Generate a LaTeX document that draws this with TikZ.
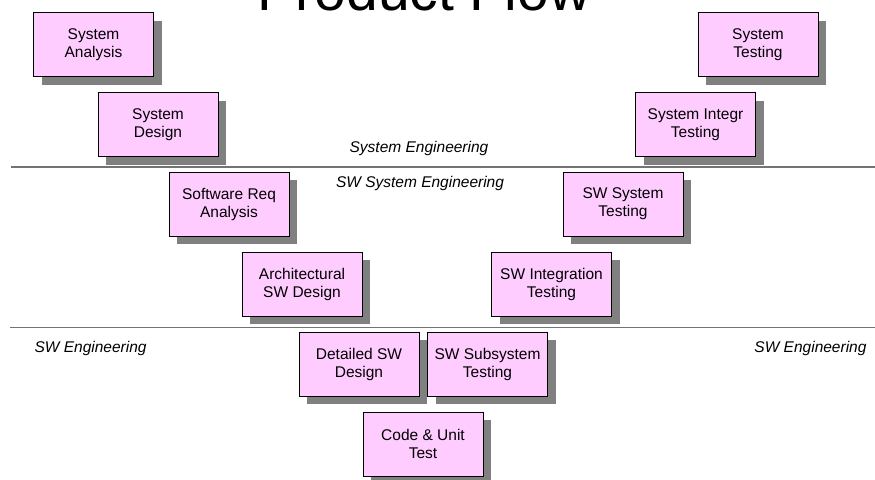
\documentclass[tikz,border=0pt]{standalone}
\usepackage{fontspec}
\setmainfont{Liberation Sans}
\usetikzlibrary{shadows}
\definecolor{taskpink}{HTML}{FFCCFF}
\tikzset{
         task/.style = { draw=black, fill=taskpink, line width=0.9pt, align=center,
                         minimum width=120pt, minimum height=64pt, inner sep=0pt,
                         font=\fontsize{15.5}{18}\selectfont,
                         drop shadow={shadow xshift=8pt, shadow yshift=-8pt,
                                      fill=black!50, opacity=1} },
  sectorlabel/.style = { font=\fontsize{15.5}{18}\selectfont\itshape },
      divider/.style = { black!55, line width=1.3pt },
     headline/.style = { anchor=base, font=\fontsize{57}{60}\selectfont }
}
\begin{document}
\begin{tikzpicture}[x=1pt, y=-1pt]
  \useasboundingbox (0,0) rectangle (875,479);

  % title
  \node (title) at (424,10) [headline] {Product Flow};

  % dividers
  \draw[divider] (11,167) -- (875,167);
  \draw[divider] (10,327.5) -- (875,327.5);

  % sectors
  \node (syseng) at (419,148) [sectorlabel] {System Engineering};
  \node (swsyseng) at (420,183) [sectorlabel] {SW System Engineering};
  \node (swengl) at (31,348) [sectorlabel, anchor=west] {SW Engineering};
  \node (swengr) at (870,348) [sectorlabel, anchor=east] {SW Engineering};

  % left side
  \node (sysanalysis) at (93.5,44.5)  [task] {System\\Analysis};
  \node (sysdesign)   at (158,124.5)  [task] {System\\Design};
  \node (swreq)       at (229,204)    [task] {Software Req\\Analysis};
  \node (archdesign)  at (302,284)    [task] {Architectural\\SW Design};
  \node (detdesign)   at (359,364)    [task] {Detailed SW\\Design};

  % bottom
  \node (codeunit)    at (423,444)    [task] {Code \& Unit\\Test};

  % right side
  \node (subtest)     at (487.5,364)  [task] {SW Subsystem\\Testing};
  \node (swinttest)   at (551.5,284)  [task] {SW Integration\\Testing};
  \node (swsystest)   at (623,204)    [task] {SW System\\Testing};
  \node (sysinttest)  at (695.5,124.5) [task] {System Integr\\Testing};
  \node (systest)     at (758,44.5)   [task] {System\\Testing};
\end{tikzpicture}
\end{document}
